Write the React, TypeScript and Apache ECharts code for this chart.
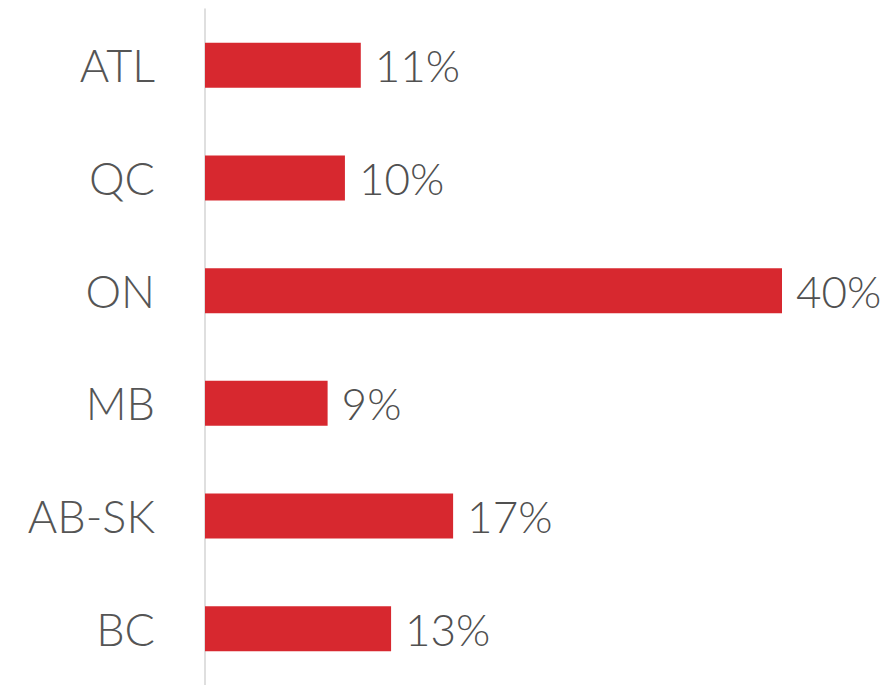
import React, { useEffect, useRef } from "react";
import * as echarts from "echarts";

const categories = ["ATL", "QC", "ON", "MB", "AB-SK", "BC"];
const values = [10.8, 9.7, 40, 8.5, 17.2, 12.9];

export default function App() {
  const ref = useRef<HTMLDivElement>(null);
  useEffect(() => {
    document.body.style.margin = "0";
    const chart = echarts.init(ref.current!, null, { renderer: "svg" });
    chart.setOption({
      animation: false,
      backgroundColor: "#ffffff",
      grid: { left: 205, right: 112, top: 9, height: 680 },
      xAxis: {
        type: "value",
        min: 0,
        max: 40,
        show: false,
      },
      yAxis: {
        type: "category",
        data: categories,
        inverse: true,
        axisLine: { show: true, lineStyle: { color: "#d4d4d4", width: 1.5 } },
        axisTick: { show: false },
        axisLabel: {
          margin: 50,
          fontSize: 45,
          fontFamily: "Lato",
          fontWeight: 300,
          color: "#555555",
        },
        splitLine: { show: false },
      },
      series: [
        {
          type: "bar",
          data: values,
          barWidth: 45,
          itemStyle: { color: "#D7282F" },
          label: {
            show: true,
            position: "right",
            distance: 14,
            fontSize: 44,
            fontFamily: "Lato",
            fontWeight: 300,
            color: "#505050",
            formatter: (p: any) => Math.round(p.value) + "%",
          },
        },
      ],
    });
    return () => chart.dispose();
  }, []);
  return (
    <div
      ref={ref}
      style={{ position: "absolute", left: 0, top: 0, width: 894, height: 685 }}
    />
  );
}
